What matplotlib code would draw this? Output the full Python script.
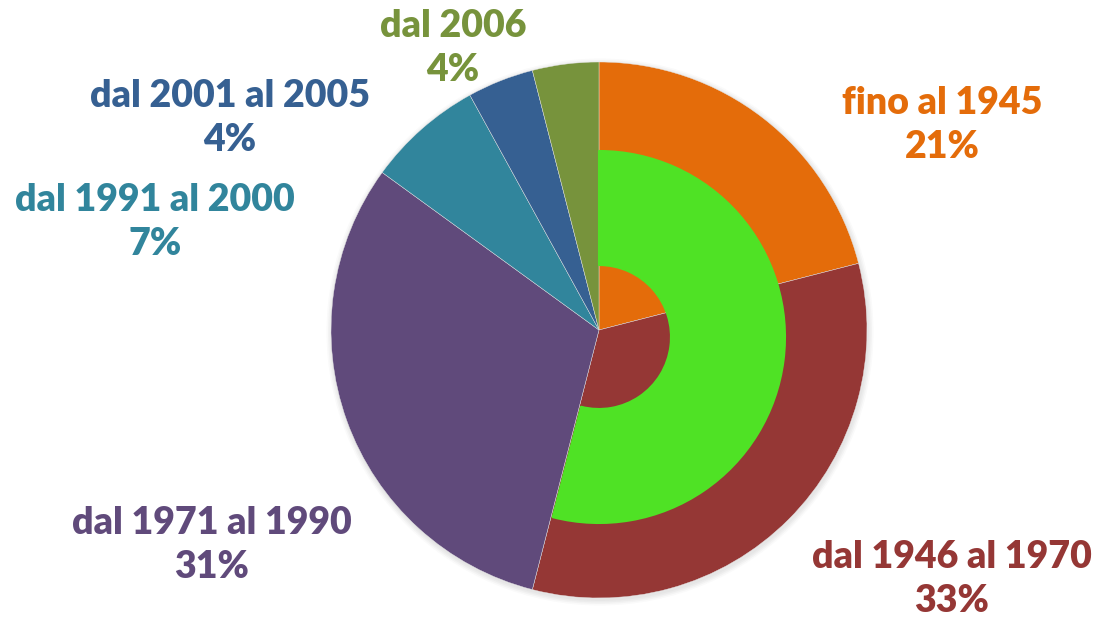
import matplotlib.pyplot as plt
from matplotlib.patches import Wedge, Circle

# dati
periodi = ["fino al 1945", "dal 1946 al 1970", "dal 1971 al 1990",
           "dal 1991 al 2000", "dal 2001 al 2005", "dal 2006"]
quote = [21, 33, 31, 7, 4, 4]
colori = ["#E46C0A", "#953735", "#604A7B", "#31859C", "#366092", "#77933C"]
# anello verde sopra le prime due fette
n_anello = 2

# posizioni delle etichette (pixel, origine in alto a sinistra)
pos_etichette = [(942, 125), (952, 579), (212, 545), (155, 222), (230, 118), (453, 48)]

W, H = 1105, 622
fig = plt.figure(figsize=(W / 100, H / 100), dpi=100)
ax = fig.add_axes([0, 0, 1, 1])

cx, cy, R = 599, H - 330, 268

# ombra leggera
for i, a in enumerate([0.05, 0.05, 0.05, 0.04]):
    ax.add_patch(Circle((cx + 1, cy - 2), R + 1 + i * 1.5, color="gray", alpha=a, lw=0, zorder=0))

ax.pie(quote, colors=colori, startangle=90, counterclock=False, radius=R,
       center=(cx, cy), frame=True,
       wedgeprops=dict(edgecolor="#e6e6e6", linewidth=0.3))
ax.set_xlim(0, W)
ax.set_ylim(0, H)
ax.set_aspect("equal")
ax.axis("off")

# anello verde
fine = 90 - 360 * sum(quote[:n_anello]) / sum(quote)
ax.add_patch(Wedge((cx, H - 337), 186, fine, 90, width=114, facecolor="#4FE225",
                   edgecolor="#4FE225", linewidth=1.5, joinstyle="round", zorder=5))

for nome, q, c, (x, y) in zip(periodi, quote, colori, pos_etichette):
    ax.text(x, H - y, f"{nome}\n{q}%", color=c, fontsize=27, fontweight="heavy",
            family="Lato", ha="center", va="center", linespacing=1.38, zorder=6)

fig.savefig("out.png", dpi=100)
